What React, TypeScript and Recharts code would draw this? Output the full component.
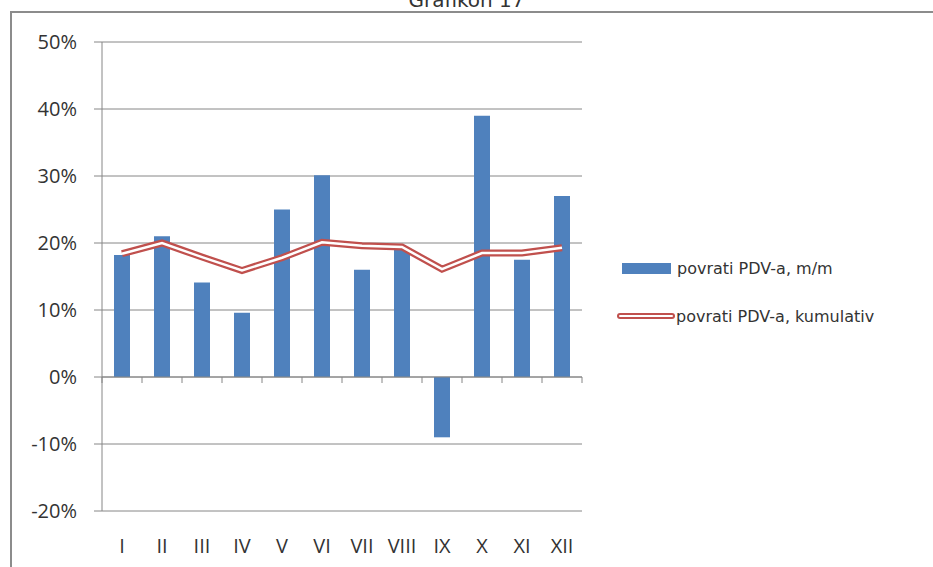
import React from "react";
import { ComposedChart, Bar, Line, XAxis, YAxis, CartesianGrid, ReferenceLine, Legend } from "recharts";

const months = ["I", "II", "III", "IV", "V", "VI", "VII", "VIII", "IX", "X", "XI", "XII"];
const monthly = [18.2, 21, 14.1, 9.6, 25, 30.1, 16, 19, -9, 39, 17.5, 27];
const cumulative = [18.4, 20, 17.9, 15.9, 17.8, 20.1, 19.6, 19.4, 16.1, 18.5, 18.5, 19.3];
const yTicks = [-20, -10, 0, 10, 20, 30, 40, 50];

const data = months.map((m, i) => ({ m, mm: monthly[i], kum: cumulative[i] }));

const gray = "#868686";
const blue = "#4f81bd";
const red = "#c0504d";
const textColor = "#333";

// zero axis with tick marks between the categories
const ZeroAxis = (p: any) => {
  const { x1, x2, y1 } = p;
  const step = (x2 - x1) / months.length;
  const marks = [];
  for (let i = 0; i <= months.length; i++) {
    const x = x1 + step * i;
    marks.push(<line key={i} x1={x} x2={x} y1={y1} y2={y1 + 6} stroke={gray} strokeWidth={1} />);
  }
  return (
    <g>
      <line x1={x1} x2={x2} y1={y1} y2={y1} stroke={gray} strokeWidth={1} />
      {marks}
    </g>
  );
};

const LegendBox = () => (
  <div style={{ fontFamily: "DejaVu Sans", fontSize: 16, color: textColor }}>
    <div style={{ display: "flex", alignItems: "center", height: 24, marginLeft: 6 }}>
      <span style={{ display: "inline-block", width: 49, height: 11, background: blue, marginRight: 6 }} />
      <span>povrati PDV-a, m/m</span>
    </div>
    <div style={{ display: "flex", alignItems: "center", height: 24, marginTop: 24 }}>
      <svg width={60} height={10}>
        <line x1={4} x2={56} y1={5} y2={5} stroke={red} strokeWidth={6} strokeLinecap="round" />
        <line x1={4} x2={56} y1={5} y2={5} stroke="#fff" strokeWidth={2} strokeLinecap="round" />
      </svg>
      <span>povrati PDV-a, kumulativ</span>
    </div>
  </div>
);

export default function App() {
  return (
    <div style={{ position: "absolute", left: 0, top: 0, width: 933, height: 567, overflow: "hidden", background: "#fff" }}>
      <div style={{ position: "absolute", left: 0, top: -12, width: 933, textAlign: "center", fontFamily: "DejaVu Sans", fontSize: 20, color: textColor }}>
        Grafikon 17
      </div>
      <div style={{ position: "absolute", left: 10, top: 11, width: 933, height: 600, borderLeft: "2px solid #8c8c8c", borderTop: "2px solid #8c8c8c" }} />
      <div style={{ position: "absolute", left: 0, top: 0 }}>
        <ComposedChart width={933} height={567} data={data} margin={{ top: 42, right: 351, bottom: 26, left: 0 }}>
          <CartesianGrid vertical={false} stroke={gray} />
          <XAxis
            dataKey="m"
            axisLine={false}
            tickLine={false}
            tickMargin={22}
            interval={0}
            tick={{ fill: textColor, fontSize: 20, fontFamily: "Open Sans" }}
          />
          <YAxis
            width={102}
            domain={[-20, 50]}
            ticks={yTicks}
            interval={0}
            tickFormatter={(v) => `${v}%`}
            stroke={gray}
            tickSize={8}
            tickMargin={17}
            tick={{ fill: textColor, fontSize: 20, fontFamily: "Open Sans" }}
          />
          <Bar dataKey="mm" name="povrati PDV-a, m/m" fill={blue} barSize={16} isAnimationActive={false} />
          <ReferenceLine y={0} shape={ZeroAxis} />
          <Line dataKey="kum" name="povrati PDV-a, kumulativ" type="linear" stroke={red} strokeWidth={7} dot={false} isAnimationActive={false} />
          <Line dataKey="kum" legendType="none" type="linear" stroke="#fff" strokeWidth={2.5} dot={false} isAnimationActive={false} />
          <Legend layout="vertical" align="center" verticalAlign="middle" content={<LegendBox />} wrapperStyle={{ left: 616, top: 256, width: 320 }} />
        </ComposedChart>
      </div>
    </div>
  );
}
